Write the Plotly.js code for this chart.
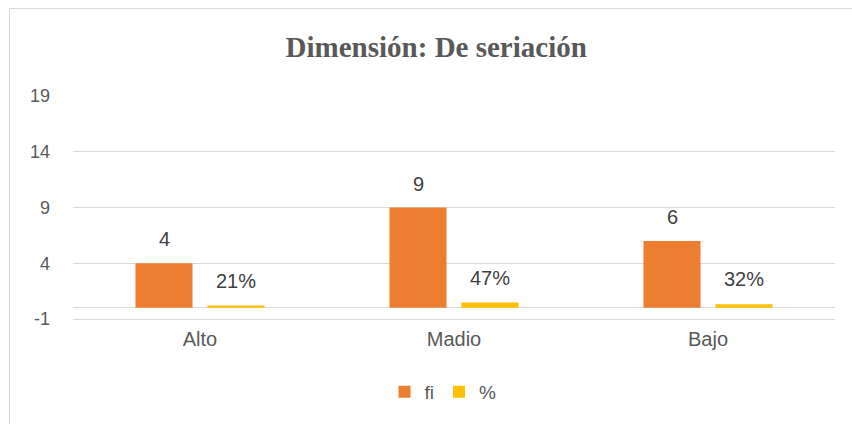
<!DOCTYPE html>
<html>
<head>
<meta charset="utf-8">
<script src="https://cdn.plot.ly/plotly-3.0.1.min.js"></script>
<style>
  html, body { margin:0; padding:0; background:#fff; }
  #frame { position:absolute; left:9px; top:8px; width:900px; height:500px; border:1px solid #d9d9d9; box-sizing:border-box; }
  #chart { position:absolute; left:0; top:0; width:852px; height:424px; }
</style>
</head>
<body>
<div id="frame"></div>
<div id="chart"></div>
<script>
const categories = ["Alto", "Madio", "Bajo"];
const fiValues = [4, 9, 6];
const pctValues = [0.21, 0.47, 0.32];
const fiLabels = ["4", "9", "6"];
const pctLabels = ["21%", "47%", "32%"];
const yTicks = [-1, 4, 9, 14, 19];

const textColor = "#595959";
const font = "Liberation Sans, Arial, sans-serif";

const traces = [
  { type: "bar", name: "fi", x: categories, y: fiValues, marker: { color: "#ED7D31" }, hoverinfo: "none" },
  { type: "bar", name: "%", x: categories, y: pctValues, marker: { color: "#FFC000" }, hoverinfo: "none" }
];

const annotations = [];
categories.forEach((c, i) => {
  annotations.push({ x: c, y: fiValues[i], text: fiLabels[i], xref: "x", yref: "y", showarrow: false,
    xshift: -36, yshift: 24, yanchor: "middle", font: { family: font, size: 20, color: "#404040" } });
  annotations.push({ x: c, y: pctValues[i], text: pctLabels[i], xref: "x", yref: "y", showarrow: false,
    xshift: 36, yshift: 25, yanchor: "middle", font: { family: font, size: 20, color: "#404040" } });
});

const layout = {
  width: 852, height: 424,
  paper_bgcolor: "rgba(0,0,0,0)", plot_bgcolor: "rgba(0,0,0,0)",
  margin: { l: 73, r: 17, t: 96, b: 105 },
  title: { text: "<b>Dimensión: De seriación</b>", x: 0.512, xref: "container", xanchor: "center",
    y: 0.889, yref: "container", yanchor: "middle",
    font: { family: "Liberation Serif, Times New Roman, serif", size: 29, color: textColor } },
  barmode: "group", bargap: 0.433, bargroupgap: 0.208,
  xaxis: { type: "category", showgrid: false, zeroline: false, showline: true, linecolor: "#d9d9d9", linewidth: 1,
    ticks: "", ticklabelstandoff: 2, tickfont: { family: font, size: 20, color: textColor } },
  yaxis: { range: [-1, 19], tickvals: yTicks, ticktext: yTicks.map(String), showgrid: true,
    gridcolor: "#d9d9d9", gridwidth: 1, zeroline: true, zerolinecolor: "#d9d9d9", zerolinewidth: 1,
    showline: false, ticks: "", ticklabelstandoff: 22, tickfont: { family: font, size: 18, color: textColor } },
  showlegend: true,
  legend: { orientation: "h", x: 0.52, xref: "container", xanchor: "center", y: 0.0755, yref: "container", yanchor: "middle",
    font: { family: font, size: 19, color: textColor }, itemwidth: 30, traceorder: "normal" },
  annotations: annotations
};

Plotly.newPlot("chart", traces, layout, { staticPlot: true, displayModeBar: false });
</script>
</body>
</html>
